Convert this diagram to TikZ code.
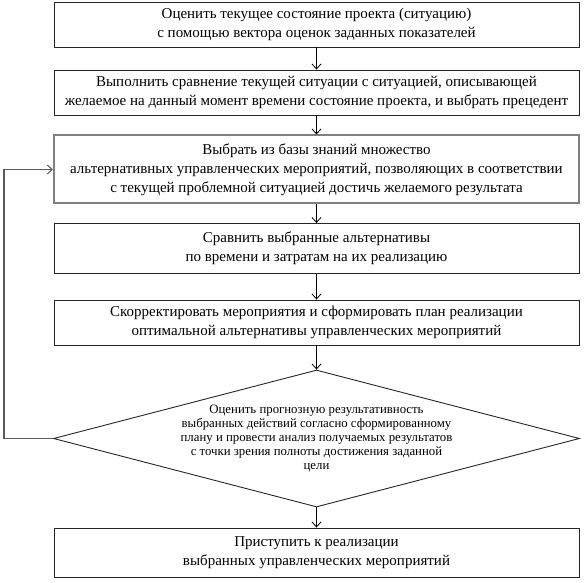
\documentclass[tikz,border=0pt]{standalone}
\usepackage{fontspec}
\setmainfont{Liberation Serif}
\usetikzlibrary{shapes.geometric,arrows.meta}
\tikzset{
  stepbox/.style={draw=black!85, line width=0.9pt, rectangle, minimum width=525pt, inner sep=0pt,
    align=center, font=\fontsize{15}{19}\selectfont},
  graybox/.style={stepbox, draw=black!50, line width=2pt},
  decision/.style={draw=black!85, line width=0.9pt, diamond, minimum width=526pt, minimum height=137pt,
    aspect=3.84, inner sep=0pt},
  dtext/.style={align=center, font=\fontsize{12.8}{13.8}\selectfont, inner sep=0pt},
  flow/.style={draw=black, line width=0.8pt, -{Straight Barb[length=5pt,width=9pt,line width=0.8pt]}},
  feedback/.style={draw=black!65, line width=1.2pt, -{Straight Barb[length=5pt,width=9pt,line width=1pt]}}
}
\begin{document}
\begin{tikzpicture}[x=1pt,y=-1pt]
\useasboundingbox (0,0) rectangle (584,583);
\node[stepbox, minimum height=45pt] (b1) at (316.5,24.5)
  {Оценить текущее состояние проекта (ситуацию)\\с помощью вектора оценок заданных показателей};
\node[stepbox, minimum height=45pt] (b2) at (316.5,92.5)
  {Выполнить сравнение текущей ситуации с ситуацией, описывающей\\желаемое на данный момент времени состояние проекта, и выбрать прецедент};
\node[graybox, minimum height=68pt] (b3) at (316.5,169.5)
  {Выбрать из базы знаний множество\\альтернативных управленческих мероприятий, позволяющих в соответствии\\с текущей проблемной ситуацией достичь желаемого результата};
\node[stepbox, minimum height=50pt] (b4) at (316.5,248.5)
  {Сравнить выбранные альтернативы\\по времени и затратам на их реализацию};
\node[stepbox, minimum height=45pt] (b5) at (316.5,322.5)
  {Скорректировать мероприятия и сформировать план реализации\\оптимальной альтернативы управленческих мероприятий};
\node[decision] (d) at (316.5,438.5) {};
\node[dtext] (dt) at (d.center)
  {Оценить прогнозную результативность\\выбранных действий согласно сформированному\\плану и провести анализ получаемых результатов\\с точки зрения полноты достижения заданной\\цели};
\node[stepbox, minimum height=49pt] (b6) at (316.5,552.5)
  {Приступить к реализации\\выбранных управленческих мероприятий};
\coordinate (fb) at (4,438.5);
\draw[flow] (b1) -- (b2);
\draw[flow] (b2) -- (b3);
\draw[flow] (b3) -- (b4);
\draw[flow] (b4) -- (b5);
\draw[flow] (b5) -- (d);
\draw[flow] (d) -- (b6);
\draw[feedback] (d.west) -- (fb) |- (b3.west);
\end{tikzpicture}
\end{document}
